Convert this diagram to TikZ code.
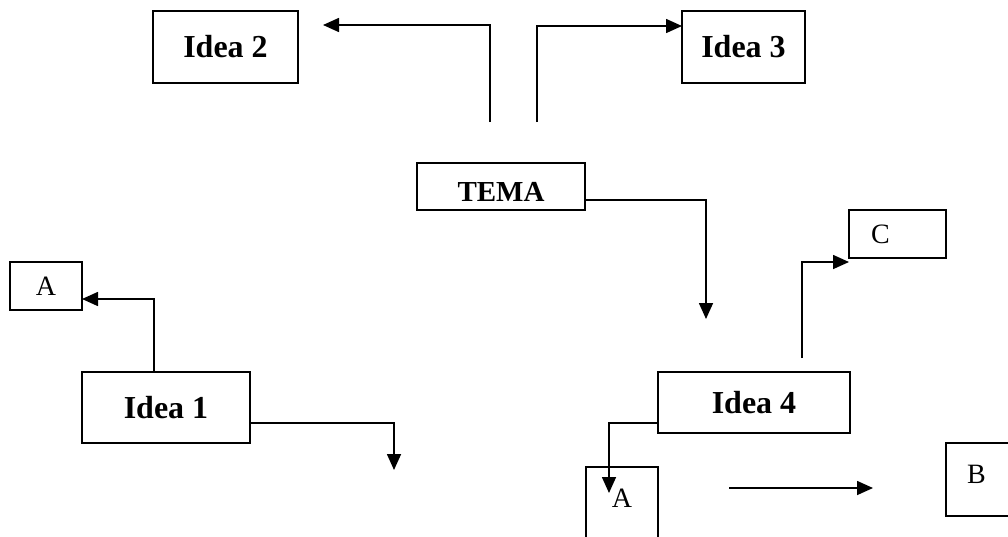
\documentclass[tikz,border=0pt]{standalone}
\usepackage{fontspec}
\setmainfont{Liberation Serif}
\usetikzlibrary{arrows.meta}

\begin{document}
\begin{tikzpicture}[x=1pt, y=-1pt,
    caja/.style={draw, rectangle, line width=1.7pt, inner sep=0pt, outer sep=0pt},
    idea/.style={caja, font=\fontsize{32}{38}\selectfont\bfseries},
    letra/.style={caja, font=\fontsize{28}{32}\selectfont},
    flecha/.style={line width=1.6pt, -{Triangle[length=16pt,width=14pt]}}]
            \useasboundingbox (0,0) rectangle (1008,536);
            \node[idea, minimum width=145pt, minimum height=72pt] (idea2) at (225.5,47) {Idea 2};
            \node[idea, minimum width=123pt, minimum height=72pt] (idea3) at (743.5,47) {Idea 3};
            \node[caja, font=\fontsize{29}{34}\selectfont\bfseries, minimum width=168pt, text height=29pt, text depth=0pt, inner ysep=9pt] (tema) at (501,186.5) {TEMA};
            \node[idea, minimum width=168pt, minimum height=71pt] (idea1) at (166,407.5) {Idea 1};
            \node[idea, minimum width=192pt, minimum height=61pt] (idea4) at (754,402.5) {Idea 4};
            \node[letra, minimum width=72pt, minimum height=48pt] (a1) at (46,286) {A};
            \node[letra, text width=53pt, inner xsep=22pt, align=left, minimum height=48pt] (c4) at (897.5,234) {C};
            \node[letra, minimum width=72pt, text height=30pt, text depth=60pt, inner ysep=10pt, anchor=north] (a4) at (622,467) {A};
            \node[letra, text width=50pt, inner xsep=21pt, align=left, text height=18pt, text depth=10pt, minimum height=73pt, anchor=west] (b4) at (946,479.5) {B};
            % free ends
            \coordinate (t2) at (490,122);
            \coordinate (t3) at (537,122);
            \coordinate (e2) at (323,25);
            \coordinate (e4) at (706,319);
            \coordinate (e1) at (394,470);
            \coordinate (s4) at (802,358);
            \coordinate (e5) at (609,493);
            \coordinate (s6) at (729,488);
            \coordinate (e6) at (873,488);
            \draw[flecha] (t2) |- (e2);
            \draw[flecha] (t3) |- ([yshift=21pt]idea3.west);
            \draw[flecha] ([yshift=-13.5pt]tema.east) -| (e4);
            \draw[flecha] ([xshift=-12pt]idea1.north) |- ([yshift=-13pt]a1.east);
            \draw[flecha] ([yshift=-15.5pt]idea1.east) -| (e1);
            \draw[flecha] (s4) |- ([yshift=-28pt]c4.west);
            \draw[flecha] ([yshift=-20.5pt]idea4.west) -| (e5);
            \draw[flecha] (s6) -- (e6);
        \end{tikzpicture}
\end{document}
